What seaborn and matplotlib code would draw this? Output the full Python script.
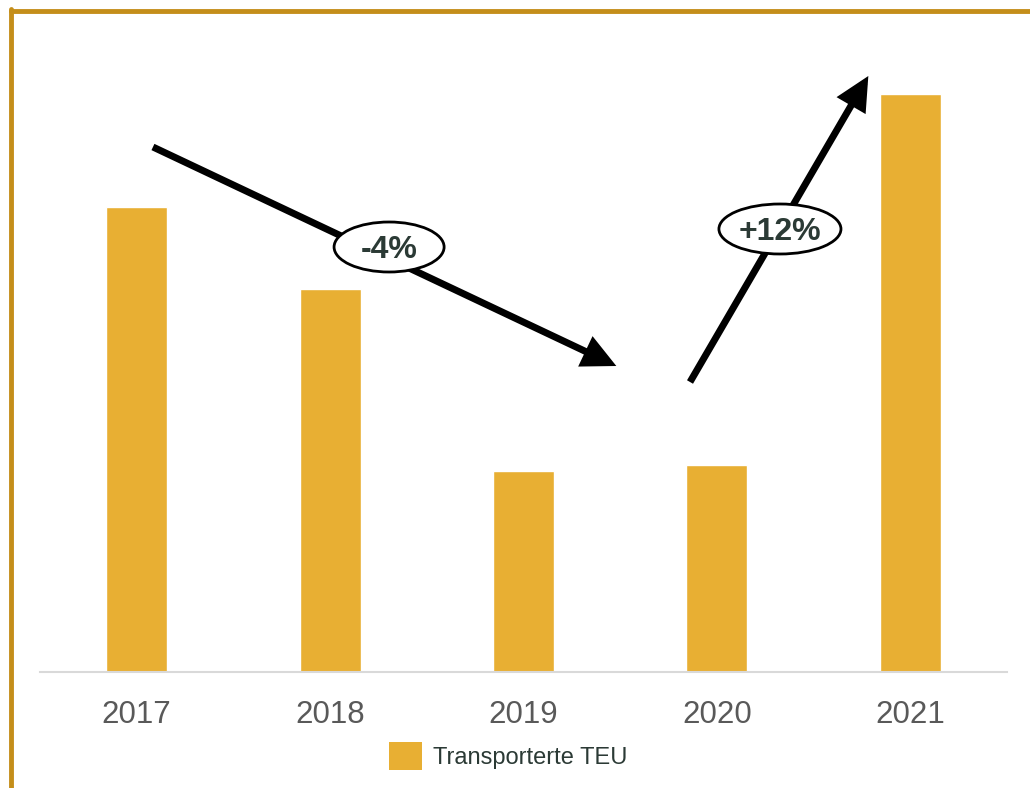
import matplotlib
matplotlib.use("Agg")
import matplotlib.pyplot as plt
from matplotlib.patches import Ellipse, Patch
import pandas as pd
import seaborn as sns

# values (relative TEU, arbitrary units)
years = ["2017", "2018", "2019", "2020", "2021"]
teu = [465, 383, 201, 207, 578]
series_name = "Transporterte TEU"

# trend annotations
trend_labels = ["-4%", "+12%"]

BAR = "#E8AF33"
BORDER = "#C48E1A"
TEXT = "#2B3A35"

sns.set_theme(style="white")
plt.rcParams["font.family"] = ["Liberation Sans", "DejaVu Sans"]

df = pd.DataFrame({"Jahr": years, "TEU": teu})

W, H = 1030, 788
fig = plt.figure(figsize=(W / 100, H / 100), dpi=100)
ax = fig.add_axes([40 / W, (H - 672) / H, 967 / W, 642 / H])

sns.barplot(data=df, x="Jahr", y="TEU", color=BAR, width=0.315, saturation=1, ax=ax)
ax.set_xlim(-0.5, 4.5)
ax.set_ylim(0, 642)
ax.set_xlabel("")
ax.set_ylabel("")
ax.set_yticks([])
for s in ["top", "right", "left"]:
    ax.spines[s].set_visible(False)
ax.spines["bottom"].set_color("#D9D9D9")
ax.spines["bottom"].set_linewidth(1.5)
ax.tick_params(axis="x", length=0, pad=20, labelsize=22.5, labelcolor="#595959")

# trend arrows
arrow_kw = dict(arrowstyle="-|>,head_length=0.55,head_width=0.27", lw=5,
                color="black", mutation_scale=30, shrinkA=0, shrinkB=0,
                joinstyle="miter", capstyle="butt")
ax.annotate("", xy=(2.48, 306), xytext=(0.084, 525), arrowprops=arrow_kw)
ax.annotate("", xy=(3.783, 596), xytext=(2.861, 290), arrowprops=arrow_kw)

# ellipse labels
for label, (cx, cy), w in zip(trend_labels, [(1.305, 425), (3.326, 443)], [0.569, 0.631]):
    ax.add_patch(Ellipse((cx, cy), w, 50, facecolor="white", edgecolor="black",
                         lw=2, zorder=5))
    ax.text(cx, cy - 3, label, ha="center", va="center", fontsize=23,
            fontweight="bold", color=TEXT, zorder=6)

# legend
fig.legend(handles=[Patch(facecolor=BAR, edgecolor="none")], labels=[series_name],
           loc="center left", bbox_to_anchor=(389 / W, 1 - 756 / H),
           frameon=False, fontsize=17, handlelength=1.4, handleheight=1.4,
           handletextpad=0.45, borderpad=0, borderaxespad=0, labelcolor=TEXT)

# gold frame on top and left
fig.add_artist(plt.Line2D([11 / W, 1], [1 - 11 / H, 1 - 11 / H],
                          color=BORDER, lw=3.5, transform=fig.transFigure))
fig.add_artist(plt.Line2D([11 / W, 11 / W], [0, 1 - 11 / H + 0.002],
                          color=BORDER, lw=3.5, transform=fig.transFigure))

fig.savefig("out.png", dpi=100)
